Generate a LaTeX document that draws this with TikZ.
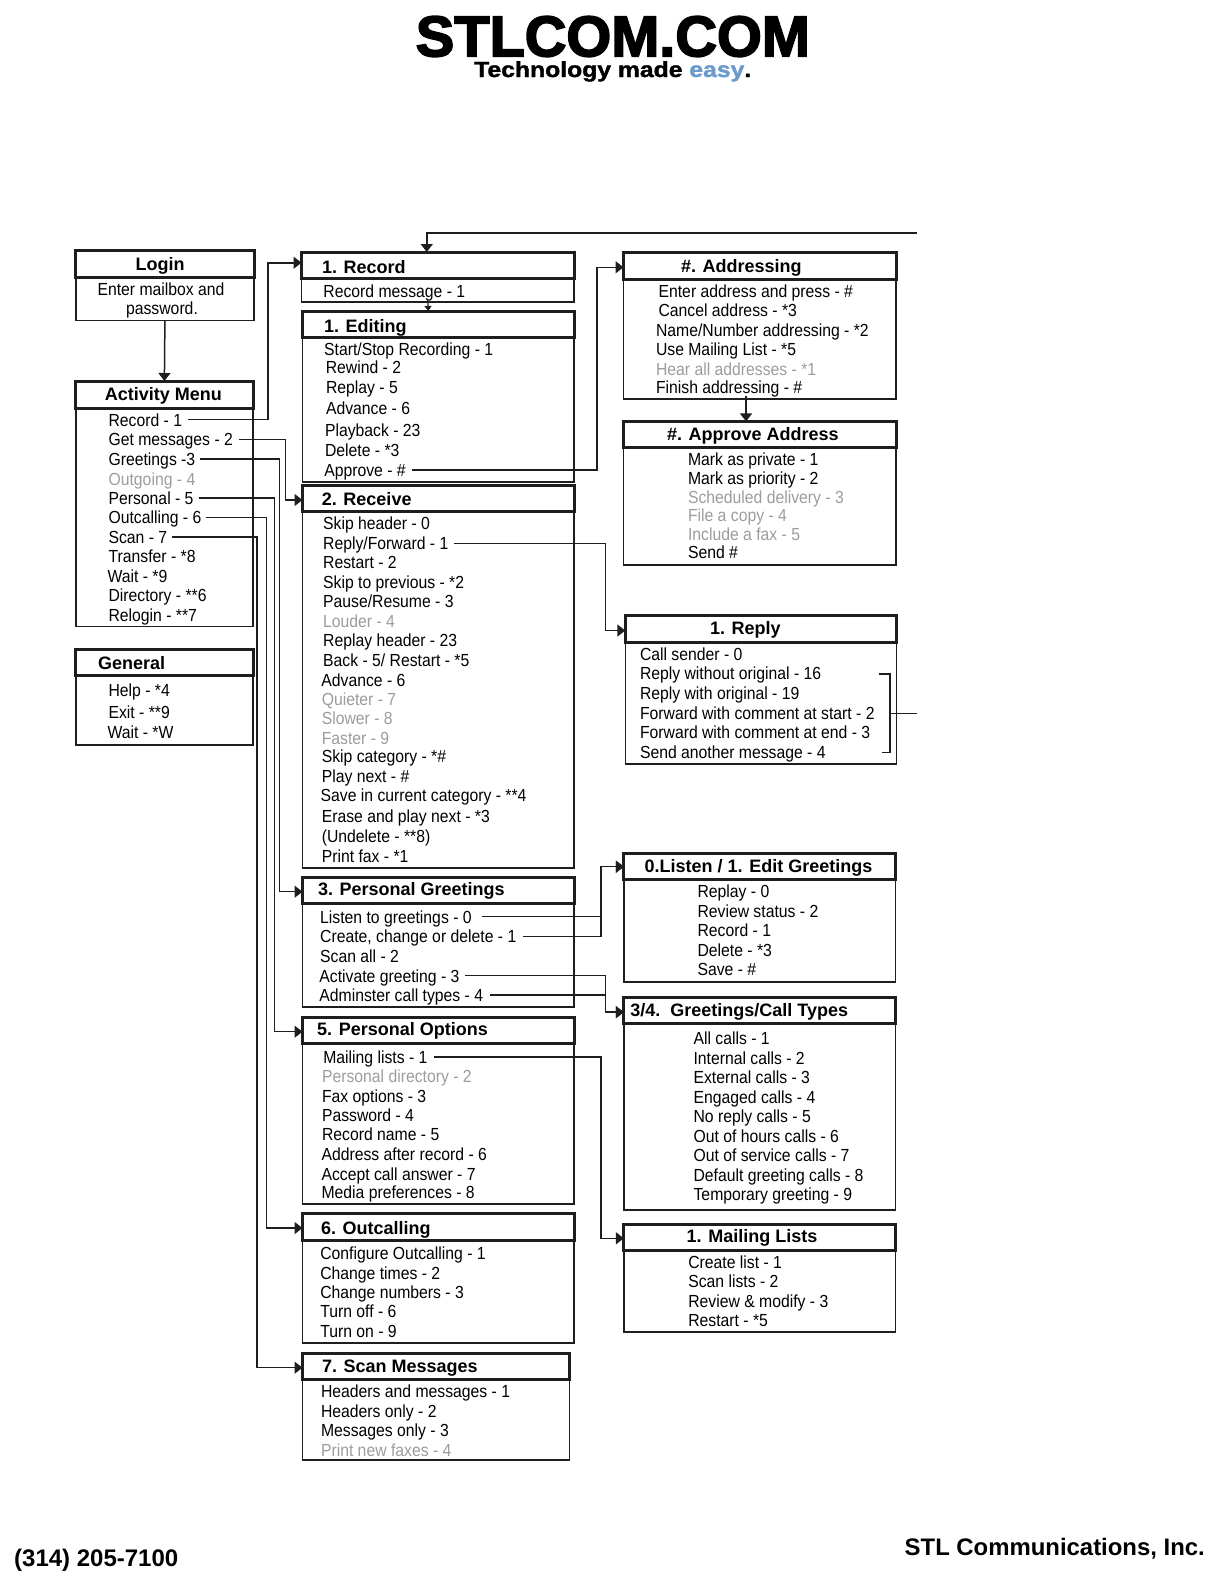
\documentclass[tikz,border=0pt]{standalone}
\usepackage{fontspec}
\usetikzlibrary{arrows.meta}
\setmainfont{Liberation Sans}
\newfontfamily\itemfont[FakeStretch=0.9]{Liberation Sans}
\newfontfamily\plainfont{Liberation Sans}
\newfontfamily\hdrfont[BoldFeatures={FakeBold=3}]{Liberation Sans}
\newfontfamily\tagfont[BoldFeatures={FakeBold=1.5}]{Liberation Sans}
\definecolor{ink}{HTML}{1E1E1E}
\definecolor{greyed}{HTML}{9C9C9C}
\definecolor{easyblue}{HTML}{6A9BCB}
\tikzset{
  itembase/.style={anchor=west,inner sep=0pt,outer sep=0pt,text height=13pt,text depth=0pt,
    font=\itemfont\fontsize{17.5}{20}\selectfont},
  item/.style={itembase,text=black},
  greyitem/.style={itembase,text=greyed},
  centeritem/.style={itembase,anchor=center,text=black},
  titletext/.style={inner sep=0pt,outer sep=0pt,text height=13pt,text depth=0pt,text=black,
    font=\plainfont\bfseries\fontsize{18}{20}\selectfont},
  titlebox/.style={draw=ink,line width=3pt,inner sep=0pt,outer sep=0pt,anchor=north west},
  bodybox/.style={draw=ink,line width=1.4pt,inner sep=0pt,outer sep=0pt,anchor=north west},
  conn/.style={draw=ink,line width=1.5pt,-{Triangle[length=8pt,width=12pt]}},
  smallconn/.style={draw=ink,line width=1.2pt,-{Triangle[length=5pt,width=7pt]}},
  plainconn/.style={draw=ink,line width=1.5pt},
}
\newcommand{\mypanel}[6]{%
  \pgfmathsetmacro\pw{#3-#2}\pgfmathsetmacro\ph{#5-#4}\pgfmathsetmacro\pb{#6-#5}%
  \node[bodybox,minimum width=\pw pt,minimum height=\pb pt] (#1b) at (#2,#5) {};
  \node[titlebox,minimum width=\pw pt,minimum height=\ph pt] (#1) at (#2,#4) {};
}
\newcommand{\route}[5]{%
  \coordinate (vx) at (#3,0);
  \coordinate (st) at ([xshift=#2pt]#1.east);
  \coordinate (en) at ([yshift=#5pt]#4.west);
  \draw[conn] (st) -- (vx |- st) -- (vx |- en) -- (en);
}
\begin{document}
\begin{tikzpicture}[x=1pt,y=-1pt]
\useasboundingbox (0,0) rectangle (1225,1585);
% header and footer
\node[inner sep=0pt,anchor=north west] (brand) at (415.6,16) {\resizebox{394pt}{40pt}{\hdrfont\bfseries STLCOM.COM}};
\node[inner sep=0pt,anchor=base west] (tagline) at (474,77) {\resizebox{277pt}{15.8pt}{\tagfont\bfseries Technology made \textcolor{easyblue}{easy}.}};
\node[inner sep=0pt,anchor=base west] (phone) at (14,1566) {\plainfont\bfseries\fontsize{24}{26}\selectfont (314) 205-7100};
\node[inner sep=0pt,anchor=base east] (company) at (1205,1555) {\plainfont\bfseries\fontsize{23.9}{26}\selectfont STL Communications, Inc.};
% panels
\mypanel{login}{75.8}{254}{250.7}{277}{320.3}
\mypanel{activity}{75.8}{253}{381}{408}{626.7}
\mypanel{general}{75.8}{253}{649}{675}{745}
\mypanel{record}{301.5}{574}{252}{278.7}{302}
\mypanel{editing}{302.5}{574}{311}{337.5}{482}
\mypanel{receive}{302.5}{574}{485.7}{511.7}{868}
\mypanel{greetings}{302.5}{574}{877}{903}{1007}
\mypanel{options}{302.5}{574}{1017}{1043}{1204}
\mypanel{outcalling}{302.5}{574}{1213.5}{1240}{1343}
\mypanel{scan}{302.5}{569.5}{1353}{1379}{1460}
\mypanel{addressing}{623.5}{896}{252}{279}{399}
\mypanel{approve}{623.5}{896}{421.4}{447.7}{565}
\mypanel{reply}{625.3}{896.7}{615.7}{642}{764}
\mypanel{listen}{623.8}{895.5}{853}{879}{982}
\mypanel{types}{623.8}{895.5}{997.7}{1023}{1210}
\mypanel{mailing}{623.8}{895.5}{1224}{1250}{1332}
% titles
\node[titletext,anchor=center] (tLogin) at (160,264) {Login};
\node[titletext,anchor=center] (tActivity) at (163.3,394) {Activity Menu};
\node[titletext,anchor=west] (tGeneral) at (98.2,662.7) {General};
\node[titletext,anchor=west] (tRecord) at (322,266.7) {1. Record};
\node[titletext,anchor=west] (tEditing) at (324,325.7) {1. Editing};
\node[titletext,anchor=west] (tReceive) at (321.8,499.3) {2. Receive};
\node[titletext,anchor=west] (tGreetings) at (318,889.3) {3. Personal Greetings};
\node[titletext,anchor=west] (tOptions) at (317.2,1029) {5. Personal Options};
\node[titletext,anchor=west] (tOutcalling) at (321,1227.7) {6. Outcalling};
\node[titletext,anchor=west] (tScan) at (322,1365.7) {7. Scan Messages};
\node[titletext,anchor=west] (tAddressing) at (681,265.7) {\#. Addressing};
\node[titletext,anchor=west] (tApprove) at (667,433.5) {\#. Approve Address};
\node[titletext,anchor=west] (tReply) at (710,628) {1. Reply};
\node[titletext,anchor=west] (tListen) at (644.6,865.7) {0.Listen / 1. Edit Greetings};
\node[titletext,anchor=west] (tTypes) at (630.3,1010) {3/4.\ \ Greetings/Call Types};
\node[titletext,anchor=west] (tMailing) at (686.7,1236) {1. Mailing Lists};
% login
\node[centeritem] (i1) at (161,289.3) {Enter mailbox and};
\node[centeritem] (i2) at (162,308) {password.};
% activity menu
\node[item] (aRecord) at (108.6,419.5) {Record - 1};
\node[item] (aGet) at (108.6,439.3) {Get messages - 2};
\node[item] (aGreet) at (108.6,459) {Greetings -3};
\node[greyitem] (aOut) at (108.6,478.7) {Outgoing - 4};
\node[item] (aPers) at (108.6,498) {Personal - 5};
\node[item] (aCall) at (108.6,517.3) {Outcalling - 6};
\node[item] (aScan) at (108.6,537) {Scan - 7};
\node[item] (aTrans) at (108.6,556) {Transfer - *8};
\node[item] (aWait) at (107.5,576) {Wait - *9};
\node[item] (aDir) at (108.6,595.3) {Directory - **6};
\node[item] (aRel) at (108.6,614.7) {Relogin - **7};
% general
\node[item] (gHelp) at (108.6,690) {Help - *4};
\node[item] (gExit) at (108.6,712.3) {Exit - **9};
\node[item] (gWait) at (107.5,731.7) {Wait - *W};
% record
\node[item] (rMsg) at (323.4,291) {Record message - 1};
% editing
\node[item] (e1) at (324.2,349.3) {Start/Stop Recording - 1};
\node[item] (e2) at (325.8,367.3) {Rewind - 2};
\node[item] (e3) at (326,386.7) {Replay - 5};
\node[item] (e4) at (326,408) {Advance - 6};
\node[item] (e5) at (325,430) {Playback - 23};
\node[item] (e6) at (325,450) {Delete - *3};
\node[item] (eApprove) at (324.3,470) {Approve - \#};
% receive
\node[item] (v1) at (323.2,523.3) {Skip header - 0};
\node[item] (vReply) at (323.2,543.3) {Reply/Forward - 1};
\node[item] (v3) at (323.2,562.3) {Restart - 2};
\node[item] (v4) at (323.2,582) {Skip to previous - *2};
\node[item] (v5) at (323.2,601.3) {Pause/Resume - 3};
\node[greyitem] (v6) at (323.2,621) {Louder - 4};
\node[item] (v7) at (323.2,640.3) {Replay header - 23};
\node[item] (v8) at (323.2,660) {Back - 5/ Restart - *5};
\node[item] (v9) at (321.4,679.7) {Advance - 6};
\node[greyitem] (v10) at (321.8,699) {Quieter - 7};
\node[greyitem] (v11) at (321.8,718) {Slower - 8};
\node[greyitem] (v12) at (321.8,737.7) {Faster - 9};
\node[item] (v13) at (321.8,756) {Skip category - *\#};
\node[item] (v14) at (321.8,776) {Play next - \#};
\node[item] (v15) at (320.7,795.3) {Save in current category - **4};
\node[item] (v16) at (321.8,816) {Erase and play next - *3};
\node[item] (v17) at (321.8,835.7) {(Undelete - **8)};
\node[item] (v18) at (321.8,856) {Print fax - *1};
% personal greetings
\node[item] (pListen) at (320.2,916.7) {Listen to greetings - 0};
\node[item] (pCreate) at (320.2,936.3) {Create, change or delete - 1};
\node[item] (pScan) at (320.2,955.7) {Scan all - 2};
\node[item] (pActivate) at (319.4,975.5) {Activate greeting - 3};
\node[item] (pAdmin) at (319.4,995) {Adminster call types - 4};
% personal options
\node[item] (oMail) at (323.3,1056.9) {Mailing lists - 1};
\node[greyitem] (o2) at (322,1076) {Personal directory - 2};
\node[item] (o3) at (322,1095.7) {Fax options - 3};
\node[item] (o4) at (322,1115) {Password - 4};
\node[item] (o5) at (322,1134.3) {Record name - 5};
\node[item] (o6) at (321.5,1154) {Address after record - 6};
\node[item] (o7) at (321.5,1173.7) {Accept call answer - 7};
\node[item] (o8) at (321.5,1192) {Media preferences - 8};
% outcalling
\node[item] (c1) at (320.3,1253.3) {Configure Outcalling - 1};
\node[item] (c2) at (320.3,1272.7) {Change times - 2};
\node[item] (c3) at (320.3,1292.3) {Change numbers - 3};
\node[item] (c4) at (320.3,1311.3) {Turn off - 6};
\node[item] (c5) at (320.3,1331.3) {Turn on - 9};
% scan
\node[item] (s1) at (321,1391.3) {Headers and messages - 1};
\node[item] (s2) at (321,1411) {Headers only - 2};
\node[item] (s3) at (321,1430.3) {Messages only - 3};
\node[greyitem] (s4) at (321,1450) {Print new faxes - 4};
% addressing
\node[item] (d1) at (658.6,291) {Enter address and press - \#};
\node[item] (d2) at (658.6,310.3) {Cancel address - *3};
\node[item] (d3) at (656,330) {Name/Number addressing - *2};
\node[item] (d4) at (656,349.3) {Use Mailing List - *5};
\node[greyitem] (d5) at (656,369) {Hear all addresses - *1};
\node[item] (d6) at (656,387.3) {Finish addressing - \#};
% approve
\node[item] (h1) at (688,458.8) {Mark as private - 1};
\node[item] (h2) at (688,478) {Mark as priority - 2};
\node[greyitem] (h3) at (688,497.2) {Scheduled delivery - 3};
\node[greyitem] (h4) at (688,515.4) {File a copy - 4};
\node[greyitem] (h5) at (688,533.6) {Include a fax - 5};
\node[item] (h6) at (688,551.8) {Send \#};
% reply
\node[item] (y1) at (640,654) {Call sender - 0};
\node[item] (y2) at (640,673.3) {Reply without original - 16};
\node[item] (y3) at (640,693) {Reply with original - 19};
\node[item] (y4) at (640,712.7) {Forward with comment at start - 2};
\node[item] (y5) at (640,732.3) {Forward with comment at end - 3};
\node[item] (y6) at (640,752) {Send another message - 4};
% listen
\node[item] (l1) at (697.5,891.3) {Replay - 0};
\node[item] (l2) at (697.5,910.7) {Review status - 2};
\node[item] (l3) at (697.5,930) {Record - 1};
\node[item] (l4) at (697.5,949.7) {Delete - *3};
\node[item] (l5) at (697.5,969) {Save - \#};
% types
\node[item] (t1) at (693.6,1038.3) {All calls - 1};
\node[item] (t2) at (693.6,1058) {Internal calls - 2};
\node[item] (t3) at (693.6,1077.3) {External calls - 3};
\node[item] (t4) at (693.6,1097) {Engaged calls - 4};
\node[item] (t5) at (693.6,1116.3) {No reply calls - 5};
\node[item] (t6) at (693.6,1136) {Out of hours calls - 6};
\node[item] (t7) at (693.6,1155.3) {Out of service calls - 7};
\node[item] (t8) at (693.6,1175) {Default greeting calls - 8};
\node[item] (t9) at (693.6,1194.3) {Temporary greeting - 9};
% mailing
\node[item] (m1) at (688.3,1261.7) {Create list - 1};
\node[item] (m2) at (688.3,1281) {Scan lists - 2};
\node[item] (m3) at (688.3,1301) {Review \& modify - 3};
\node[item] (m4) at (688.3,1320.3) {Restart - *5};
% connectors
\coordinate (topEnd) at (917,233);
\draw[conn] (topEnd) -| ([xshift=-11pt]record.north);
\draw[conn] (loginb.south) -- (activity.north);
\draw[smallconn] ([xshift=-10pt,yshift=3pt]recordb.south) -- ([xshift=-10pt]editing.north);
\draw[conn] ([xshift=-13.7pt,yshift=3pt]addressingb.south) -- ([xshift=-13.7pt]approve.north);
\route{aRecord}{5.4}{268}{record}{2.6}
\route{aGet}{6}{285.7}{receive}{-1.3}
\route{aGreet}{5}{279.3}{greetings}{-1.7}
\route{aPers}{5}{274.3}{options}{-1.7}
\route{aCall}{4.7}{266.4}{outcalling}{-1.3}
\route{aScan}{4.6}{257}{scan}{-1.7}
\route{eApprove}{6}{596.8}{addressing}{-1.8}
\route{vReply}{6}{605.4}{reply}{-1.7}
\route{pListen}{10}{601.2}{listen}{-0.7}
\route{pCreate}{6.5}{601.2}{listen}{-0.7}
\route{pActivate}{5.7}{605.6}{types}{-1.8}
\route{pAdmin}{6.5}{605.6}{types}{-1.8}
\route{oMail}{6.5}{601.2}{mailing}{-1.3}
% reply bracket
\coordinate (brT) at (879.3,674);
\coordinate (brTc) at (890,674);
\coordinate (brBc) at (890,752.7);
\coordinate (brB) at (881.7,752.7);
\coordinate (brC) at (890,713.3);
\coordinate (brE) at (916.7,713.3);
\draw[plainconn] (brT) -- (brTc) -- (brBc) -- (brB);
\draw[plainconn] (brC) -- (brE);
\end{tikzpicture}
\end{document}
